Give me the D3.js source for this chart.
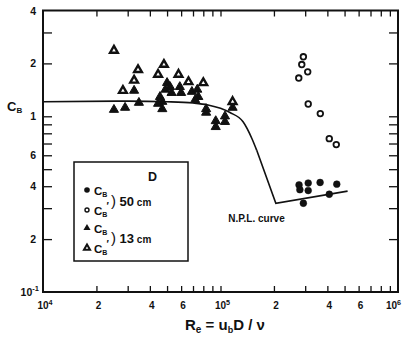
<!DOCTYPE html>
<html>
<head>
<meta charset="utf-8">
<script src="https://cdn.jsdelivr.net/npm/d3@7"></script>
<style>
  body { margin: 0; background: #fff; }
  svg { display: block; }
  text { font-family: "Liberation Sans", Arial, sans-serif; font-weight: bold; fill: #111; }
</style>
</head>
<body>
<svg id="chart" width="406" height="339"></svg>
<script>
// Reynolds number ticks and labels
const xTicks = [2e4, 3e4, 4e4, 5e4, 6e4, 7e4, 8e4, 9e4, 1e5, 2e5, 3e5, 4e5, 5e5, 6e5, 7e5, 8e5, 9e5];
const xLabelVals = [1e4, 2e4, 4e4, 6e4, 1e5, 2e5, 4e5, 6e5, 1e6];
const xLabelText = ["10^4", "2", "4", "6", "10^5", "2", "4", "6", "10^6"];

// Drag coefficient ticks and labels
const yTicks = [0.2, 0.3, 0.4, 0.5, 0.6, 0.7, 0.8, 0.9, 1, 2, 3];
const yLabelVals = [0.1, 0.2, 0.4, 0.6, 1, 2, 4];
const yLabelText = ["10^-1", "2", "4", "6", "1", "2", "4"];

// N.P.L. reference curve: smooth upper branch and straight lower branch
const nplRe = [1e4, 3e4, 5e4, 7e4, 8.5e4, 1e5, 1.13e5, 1.34e5, 1.5e5, 1.6e5];
const nplCb = [1.21, 1.22, 1.21, 1.19, 1.16, 1.11, 1.05, 0.93, 0.75, 0.64];
const nplTailRe = [1.6e5, 2.05e5, 5.2e5];
const nplTailCb = [0.64, 0.32, 0.375];

// 50 cm cylinder: C_B (filled circles) and C_B' (open circles)
const c50Re = [2.77e5, 2.8e5, 3.12e5, 3.12e5, 3.64e5, 4.52e5, 4.1e5, 2.93e5];
const c50Cb = [0.407, 0.382, 0.417, 0.378, 0.42, 0.411, 0.36, 0.32];
const c50pRe = [2.93e5, 2.87e5, 3.1e5, 2.76e5, 3.12e5, 3.65e5, 4.1e5, 4.49e5];
const c50pCb = [2.18, 1.97, 1.79, 1.65, 1.175, 1.036, 0.746, 0.69];

// 13 cm cylinder: C_B (filled triangles) and C_B' (open triangles)
const c13Re = [2.51e4, 2.9e4, 3.47e4, 3.26e4, 5.0e4, 5.2e4, 4.9e4, 4.56e4, 4.7e4, 4.7e4, 5.3e4, 4.45e4,
               5.9e4, 6.0e4, 6.9e4, 7.4e4, 7.5e4, 7.2e4, 8.3e4, 8.3e4, 9.4e4, 9.4e4, 1.06e5, 1.06e5, 1.17e5];
const c13Cb = [1.09, 1.12, 1.195, 1.40, 1.55, 1.47, 1.42, 1.29, 1.21, 1.10, 1.36, 1.18,
               1.47, 1.36, 1.38, 1.42, 1.29, 1.24, 1.10, 1.05, 0.87, 0.94, 1.0, 0.93, 1.12];
const c13pRe = [2.51e4, 3.43e4, 3.26e4, 2.82e4, 4.8e4, 4.45e4, 5.8e4, 6.6e4, 8.0e4, 1.17e5];
const c13pCb = [2.37, 1.84, 1.60, 1.40, 1.97, 1.73, 1.73, 1.57, 1.55, 1.21];

const svg = d3.select("#chart");
const L = 43, R = 398, T = 10.5, B = 292;
const x = d3.scaleLog().domain([1e4, 1e6]).range([L, R]);
const y = d3.scaleLog().domain([0.1, 4]).range([B, T]);
const ink = "#111";

// inward ticks on all four sides
function styleAxis(g) {
  g.select(".domain").remove();
  g.selectAll(".tick line").attr("stroke", ink).attr("stroke-width", 1.3);
}
svg.append("g").attr("transform", `translate(0,${B})`)
  .call(d3.axisBottom(x).tickValues(xTicks).tickSize(-6).tickFormat("")).call(styleAxis);
svg.append("g").attr("transform", `translate(0,${T})`)
  .call(d3.axisTop(x).tickValues(xTicks).tickSize(-6).tickFormat("")).call(styleAxis);
svg.append("g").attr("transform", `translate(${L},0)`)
  .call(d3.axisLeft(y).tickValues(yTicks).tickSize(-9).tickFormat("")).call(styleAxis);
svg.append("g").attr("transform", `translate(${R},0)`)
  .call(d3.axisRight(y).tickValues(yTicks).tickSize(-9).tickFormat("")).call(styleAxis);

svg.append("rect").attr("x", L).attr("y", T).attr("width", R - L).attr("height", B - T)
  .attr("fill", "none").attr("stroke", ink).attr("stroke-width", 2);

// label text with optional "^" superscript
function powerText(sel, s, size) {
  const parts = s.split("^");
  sel.append("tspan").text(parts[0]);
  if (parts.length > 1) {
    sel.append("tspan").attr("font-size", size * 0.72).attr("dy", -size * 0.45).text(parts[1]);
  }
}

xLabelVals.forEach((v, i) => {
  const last = i === xLabelVals.length - 1;
  const t = svg.append("text")
    .attr("x", last ? x(v) + 3 : x(v) + 2)
    .attr("y", 309)
    .attr("font-size", 10)
    .attr("text-anchor", last ? "end" : "middle");
  powerText(t, xLabelText[i], 10);
});

yLabelVals.forEach((v, i) => {
  const t = svg.append("text")
    .attr("x", yLabelText[i].includes("^") ? 39 : 36)
    .attr("y", y(v) + 4)
    .attr("font-size", 10.5)
    .attr("text-anchor", "end");
  powerText(t, yLabelText[i], 10.5);
});

// axis titles
const yt = svg.append("text").attr("x", 7).attr("y", 111).attr("font-size", 13);
yt.append("tspan").text("C");
yt.append("tspan").attr("font-size", 8).attr("dy", 2).text("B");

const xt = svg.append("text").attr("x", 185).attr("y", 330).attr("font-size", 15);
xt.append("tspan").text("R");
xt.append("tspan").attr("font-size", 10).attr("dy", 3).text("e");
xt.append("tspan").attr("dy", -3).text(" = u");
xt.append("tspan").attr("font-size", 9).attr("dy", 3).text("b");
xt.append("tspan").attr("dy", -3).text("D / ν");

// N.P.L. curve
const lineSmooth = d3.line().x(d => x(d[0])).y(d => y(d[1])).curve(d3.curveMonotoneX);
const lineStraight = d3.line().x(d => x(d[0])).y(d => y(d[1]));
svg.append("path").attr("d", lineSmooth(d3.zip(nplRe, nplCb)))
  .attr("fill", "none").attr("stroke", ink).attr("stroke-width", 1.6);
svg.append("path").attr("d", lineStraight(d3.zip(nplTailRe, nplTailCb)))
  .attr("fill", "none").attr("stroke", ink).attr("stroke-width", 1.6);
svg.append("text").attr("x", x(2.3e5)).attr("y", y(0.25)).attr("font-size", 10)
  .attr("text-anchor", "end").text("N.P.L. curve");

// markers
const tri = d3.symbol().type(d3.symbolTriangle);
function triangles(re, cb, open, size) {
  svg.append("g").selectAll("path").data(d3.zip(re, cb)).join("path")
    .attr("transform", d => `translate(${x(d[0])},${y(d[1])})`)
    .attr("d", tri.size(size))
    .attr("fill", open ? "#fff" : ink)
    .attr("stroke", ink).attr("stroke-width", open ? 2.4 : 1);
}
function circles(re, cb, open) {
  svg.append("g").selectAll("circle").data(d3.zip(re, cb)).join("circle")
    .attr("cx", d => x(d[0])).attr("cy", d => y(d[1]))
    .attr("r", open ? 2.8 : 3.4)
    .attr("fill", open ? "#fff" : ink)
    .attr("stroke", ink).attr("stroke-width", open ? 1.8 : 0.5);
}
triangles(c13Re, c13Cb, false, 36);
triangles(c13pRe, c13pCb, true, 26);
circles(c50Re, c50Cb, false);
circles(c50pRe, c50pCb, true);

// legend
const lg = svg.append("g");
lg.append("rect").attr("x", 74).attr("y", 162).attr("width", 114).attr("height", 99)
  .attr("fill", "#fff").attr("stroke", ink).attr("stroke-width", 1.5);
lg.append("text").attr("x", 148).attr("y", 181).attr("font-size", 12.5).text("D");

function cbLabel(yy, prime) {
  const t = lg.append("text").attr("x", 94).attr("y", yy + 5).attr("font-size", 11.5);
  t.append("tspan").text("C");
  t.append("tspan").attr("font-size", 7).attr("dy", 2).text("B");
  if (prime) t.append("tspan").attr("font-size", 10).attr("dx", -1).attr("dy", -7).text("′");
}
lg.append("circle").attr("cx", 87).attr("cy", 190).attr("r", 2.8).attr("fill", ink);
cbLabel(190, false);
lg.append("circle").attr("cx", 87).attr("cy", 210).attr("r", 2).attr("fill", "#fff")
  .attr("stroke", ink).attr("stroke-width", 1.4);
cbLabel(210, true);
lg.append("path").attr("transform", "translate(87,228)").attr("d", tri.size(22)()).attr("fill", ink);
cbLabel(228, false);
lg.append("path").attr("transform", "translate(87,248)").attr("d", tri.size(16)())
  .attr("fill", "#fff").attr("stroke", ink).attr("stroke-width", 2);
cbLabel(248, true);

function sizeLabel(yy, num) {
  const t = lg.append("text").attr("x", 111).attr("y", yy).attr("font-size", 13);
  t.append("tspan").attr("font-size", 15).attr("font-weight", "normal").text(")");
  t.append("tspan").text(" " + num);
  t.append("tspan").attr("font-size", 10).text(" cm");
}
sizeLabel(206, "50");
sizeLabel(243, "13");
</script>
</body>
</html>
